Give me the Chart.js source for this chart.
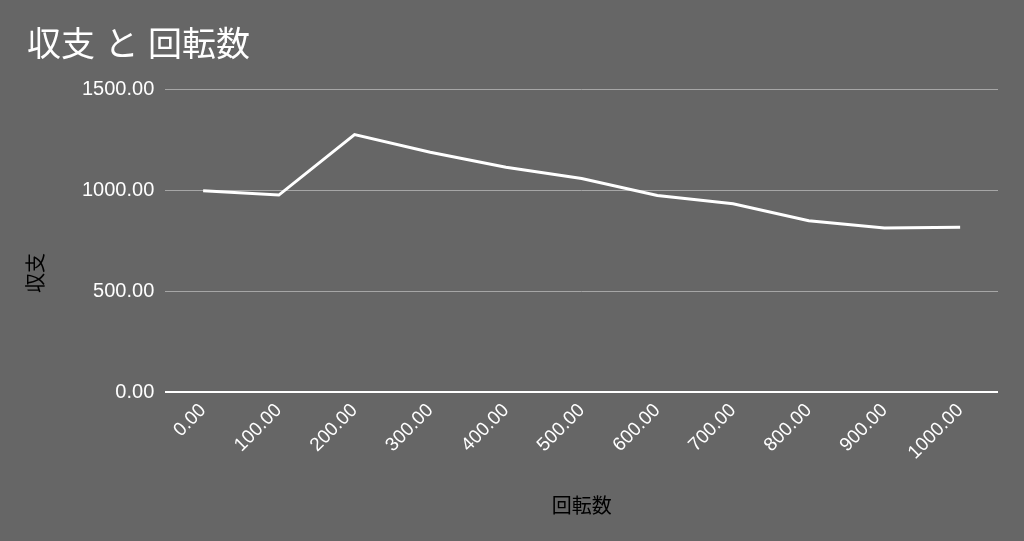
<!DOCTYPE html>
<html>
<head>
<meta charset="utf-8">
<script src="https://cdn.jsdelivr.net/npm/chart.js@4"></script>
<style>
  html, body { margin: 0; padding: 0; background: #666666; }
  #wrap { width: 1024px; height: 541px; }
</style>
</head>
<body>
<div id="wrap"><canvas id="chart" width="1024" height="541"></canvas></div>
<script>
const categories = ["0.00", "100.00", "200.00", "300.00", "400.00", "500.00", "600.00", "700.00", "800.00", "900.00", "1000.00"];
const balance = [1000, 978, 1278, 1190, 1116, 1060, 976, 935, 851, 815, 818];
const yTicks = [0, 500, 1000, 1500];

const FONT = "'Liberation Sans', 'Noto Sans CJK JP', sans-serif";

// y axis title sits a little below the middle of the plot in the original
const yTitlePlugin = {
    id: "yTitle",
    afterDraw: (chart) => {
        const c = chart.ctx;
        const area = chart.chartArea;
        c.save();
        c.translate(37, (area.top + area.bottom) / 2 + 32);
        c.rotate(-Math.PI / 2);
        c.fillStyle = "#000000";
        c.font = "20px " + FONT;
        c.textAlign = "center";
        c.textBaseline = "middle";
        c.fillText("収支", 0, 0);
        c.restore();
    }
};

const ctx = document.getElementById("chart");
const chart = new Chart(ctx, {
    type: "line",
    data: {
        labels: categories,
        datasets: [{
            label: "収支",
            data: balance,
            borderColor: "#ffffff",
            borderWidth: 3,
            pointRadius: 0,
            tension: 0,
            fill: false
        }]
    },
    options: {
        responsive: false,
        animation: false,
        layout: {
            padding: { left: 27, right: 26, top: 0, bottom: 22 }
        },
        plugins: {
            legend: { display: false },
            tooltip: { enabled: false },
            title: {
                display: true,
                text: "収支 と 回転数",
                align: "start",
                color: "#ffffff",
                font: { family: FONT, size: 34, weight: "normal" },
                padding: { top: 26, bottom: 23 }
            }
        },
        scales: {
            x: {
                offset: true,
                grid: { display: false, drawTicks: false },
                border: { display: false },
                ticks: {
                    color: "#ffffff",
                    font: { family: FONT, size: 19 },
                    maxRotation: 45,
                    minRotation: 45,
                    padding: 7
                },
                title: {
                    display: true,
                    text: "回転数",
                    color: "#000000",
                    font: { family: FONT, size: 20 },
                    padding: { top: 24, bottom: 0 }
                }
            },
            y: {
                min: yTicks[0],
                max: yTicks[yTicks.length - 1],
                afterBuildTicks: (scale) => {
                    scale.ticks = yTicks.map(v => ({ value: v }));
                },
                grid: {
                    drawTicks: false,
                    color: (c) => c.tick && c.tick.value === 0 ? "#ffffff" : "#a6a6a6",
                    lineWidth: (c) => c.tick && c.tick.value === 0 ? 2 : 1
                },
                border: { display: false },
                ticks: {
                    color: "#ffffff",
                    font: { family: FONT, size: 20 },
                    padding: 11,
                    callback: (v) => Number(v).toFixed(2)
                },
                title: {
                    // keeps the space; the text itself is drawn by yTitlePlugin
                    display: true,
                    text: "収支",
                    color: "rgba(0,0,0,0)",
                    font: { family: FONT, size: 20 },
                    padding: { top: 0, bottom: 20 }
                }
            }
        }
    },
    plugins: [yTitlePlugin]
});
</script>
</body>
</html>
